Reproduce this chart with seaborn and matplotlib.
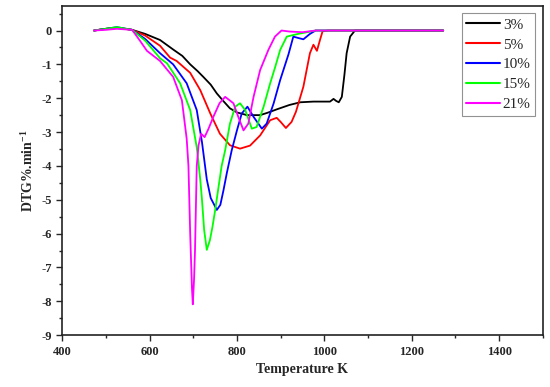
import matplotlib
matplotlib.use("Agg")
import matplotlib.pyplot as plt
from matplotlib.ticker import MultipleLocator
import seaborn as sns
import pandas as pd

# DTG curves (temperature in K, DTG in %/min)
t_3 = [473, 500, 525, 560, 590, 624, 655, 675, 693, 710, 723, 740, 754, 770, 784, 800,
       823, 853, 870, 891, 920, 945, 975, 1013, 1021, 1027, 1033, 1040, 1046, 1051, 1059,
       1070, 1100, 1150, 1200, 1240, 1272]
dtg_3 = [0, 0.05, 0.08, 0.02, -0.1, -0.28, -0.57, -0.75, -1.0, -1.2, -1.37, -1.6, -1.86,
         -2.1, -2.3, -2.42, -2.5, -2.5, -2.43, -2.33, -2.2, -2.12, -2.1, -2.1, -2.02, -2.08,
         -2.12, -1.96, -1.3, -0.67, -0.18, 0, 0, 0, 0, 0, 0]

t_5 = [473, 500, 525, 560, 590, 624, 647, 662, 693, 716, 739, 761, 784, 807, 830, 853,
       876, 891, 900, 912, 925, 935, 952, 967, 975, 983, 990, 996, 1010, 1060, 1120, 1180,
       1240, 1272]
dtg_5 = [0, 0.05, 0.08, 0.02, -0.15, -0.45, -0.8, -0.9, -1.25, -1.76, -2.45, -3.05, -3.39,
         -3.49, -3.4, -3.1, -2.65, -2.58, -2.7, -2.88, -2.7, -2.4, -1.66, -0.67, -0.42, -0.6,
         -0.28, -0.02, 0, 0, 0, 0, 0, 0]

t_10 = [473, 500, 525, 560, 590, 624, 654, 685, 708, 720, 731, 740, 754, 762, 769, 777,
        788, 800, 811, 824, 838, 857, 868, 884, 899, 918, 929, 940, 952, 967, 980, 1040,
        1100, 1160, 1220, 1272]
dtg_10 = [0, 0.05, 0.1, 0.02, -0.25, -0.67, -1.0, -1.56, -2.35, -3.3, -4.4, -4.95, -5.3,
          -5.15, -4.73, -4.2, -3.54, -2.95, -2.45, -2.25, -2.55, -2.9, -2.75, -2.15, -1.46,
          -0.7, -0.18, -0.22, -0.26, -0.1, 0, 0, 0, 0, 0, 0]

t_15 = [473, 500, 525, 560, 590, 624, 640, 670, 693, 708, 716, 720, 725, 731, 738, 744,
        750, 757, 765, 773, 784, 796, 807, 819, 834, 845, 861, 876, 887, 899, 914, 940,
        960, 980, 1040, 1100, 1160, 1220, 1272]
dtg_15 = [0, 0.05, 0.1, 0.02, -0.3, -0.82, -0.97, -1.56, -2.35, -3.45, -4.4, -5.0, -5.9,
          -6.48, -6.2, -5.8, -5.32, -4.7, -4.0, -3.54, -2.75, -2.25, -2.15, -2.35, -2.9,
          -2.85, -2.25, -1.56, -1.1, -0.57, -0.18, -0.1, -0.05, 0, 0, 0, 0, 0, 0]

t_21 = [473, 500, 525, 560, 578, 594, 624, 654, 674, 685, 689, 693, 697, 699, 702, 704,
        708, 712, 718, 726, 735, 746, 760, 773, 792, 803, 815, 826, 838, 853, 872, 887,
        902, 920, 950, 980, 1040, 1100, 1160, 1220, 1272]
dtg_21 = [0, 0.02, 0.05, 0.02, -0.3, -0.6, -0.9, -1.37, -2.06, -3.2, -4.0, -6.0, -7.6,
          -8.09, -7.3, -6.5, -4.0, -3.4, -3.05, -3.15, -2.9, -2.55, -2.15, -1.96, -2.15,
          -2.55, -2.95, -2.75, -1.96, -1.17, -0.57, -0.18, 0, -0.03, -0.05, 0, 0, 0, 0, 0, 0]

labels = ["3%", "5%", "10%", "15%", "21%"]
colors = ["#000000", "#ff0000", "#0000ff", "#00ff00", "#ff00ff"]
temps = [t_3, t_5, t_10, t_15, t_21]
dtgs = [dtg_3, dtg_5, dtg_10, dtg_15, dtg_21]

frames = []
for lab, t, d in zip(labels, temps, dtgs):
    frames.append(pd.DataFrame({"T": t, "DTG": d, "O2": lab}))
df = pd.concat(frames, ignore_index=True)

sns.set_style("ticks")
plt.rcParams["font.family"] = ["Liberation Serif", "DejaVu Serif"]
plt.rcParams["axes.unicode_minus"] = False
plt.rcParams["mathtext.fontset"] = "custom"
plt.rcParams["mathtext.rm"] = "Liberation Serif"
plt.rcParams["mathtext.bf"] = "Liberation Serif:bold"
plt.rcParams["mathtext.default"] = "bf"

fig, ax = plt.subplots(figsize=(5.5, 3.87), dpi=100)
fig.subplots_adjust(left=0.113, right=0.987, bottom=0.134, top=0.985)

sns.lineplot(data=df, x="T", y="DTG", hue="O2", hue_order=labels,
             palette=dict(zip(labels, colors)), sort=False, estimator=None,
             linewidth=1.3, ax=ax)

ax.set_xlim(400, 1500)
ax.set_ylim(-9, 0.73)
ax.xaxis.set_major_locator(MultipleLocator(200))
ax.xaxis.set_minor_locator(MultipleLocator(100))
ax.yaxis.set_major_locator(MultipleLocator(1))
ax.yaxis.set_minor_locator(MultipleLocator(0.5))
ax.tick_params(which="major", direction="out", length=4, width=1, labelsize=9)
ax.tick_params(which="minor", direction="out", length=2.5, width=1)
for lbl in ax.get_xticklabels() + ax.get_yticklabels():
    lbl.set_fontweight("bold")
for sp in ax.spines.values():
    sp.set_visible(True)
    sp.set_linewidth(1.2)
    sp.set_color("#222222")

ax.set_xlabel("Temperature K", fontsize=10, fontweight="bold")
ax.set_ylabel("DTG%.min$^{-1}$", fontsize=10, fontweight="bold")

handles, labs = ax.get_legend_handles_labels()
leg = ax.legend(handles, labs, loc="upper right", fontsize=11, frameon=True,
                fancybox=False, edgecolor="#777777", handlelength=2.2,
                borderaxespad=0.5, labelspacing=0.4, handletextpad=0.2,
                borderpad=0.3)
leg.get_frame().set_linewidth(0.8)
for line in leg.get_lines():
    line.set_linewidth(1.5)

fig.savefig("out.png", dpi=100)
